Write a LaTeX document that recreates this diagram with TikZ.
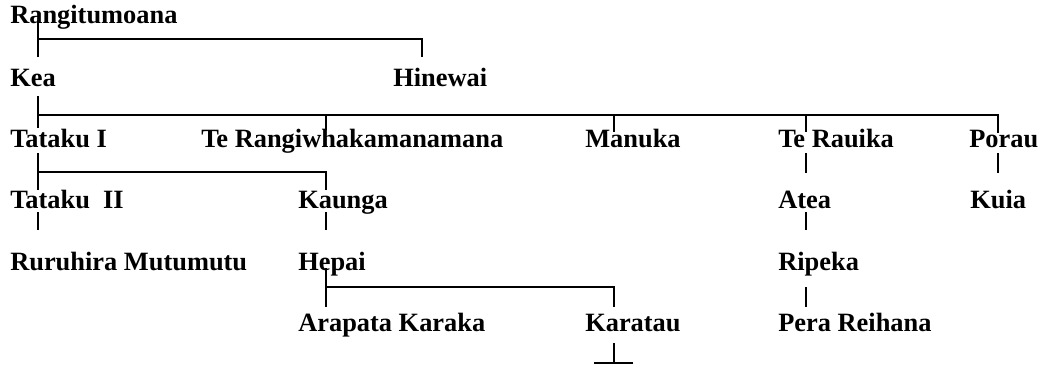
\documentclass[tikz,border=0pt]{standalone}
\usepackage{fontspec}
\setmainfont{Liberation Serif}
\begin{document}
\begin{tikzpicture}[x=0.75pt,y=-0.75pt,
  person/.style={anchor=base west,inner sep=0pt,font=\fontsize{19.8}{22}\selectfont\bfseries},
  link/.style={line width=1.25pt,black}]
\useasboundingbox (0,0) rectangle (1041,368);
% people
\node[person] (rangi) at (10,23.5) {Rangitumoana};
\node[person] (kea) at (10,86.5) {Kea};
\node[person] (hinewai) at (393,86.5) {Hinewai};
\node[person] (tataku1) at (10,147) {Tataku I};
\node[person] (terangi) at (201,147) {Te Rangiwhakamanamana};
\node[person] (manuka) at (585,147) {Manuka};
\node[person] (terauika) at (778,147) {Te Rauika};
\node[person] (porau) at (969,147) {Porau};
\node[person] (tataku2) at (10,208.5) {Tataku\ \ II};
\node[person] (kaunga) at (298,208.5) {Kaunga};
\node[person] (atea) at (778,208.5) {Atea};
\node[person] (kuia) at (970,208.5) {Kuia};
\node[person] (ruruhira) at (10,270) {Ruruhira Mutumutu};
\node[person] (hepai) at (298,270) {Hepai};
\node[person] (ripeka) at (778,270) {Ripeka};
\node[person] (arapata) at (298,331.5) {Arapata Karaka};
\node[person] (karatau) at (585,331.5) {Karatau};
\node[person] (pera) at (778,331.5) {Pera Reihana};
% junction coordinates
\coordinate (j1a) at (37.7,20);   \coordinate (j1b) at (37.7,39);
\coordinate (j1c) at (37.7,57);   \coordinate (j1d) at (422.3,39);
\coordinate (j1e) at (422.3,57);
\coordinate (j2a) at (37.7,96);   \coordinate (j2b) at (37.7,115);
\coordinate (j2c) at (37.7,128);  \coordinate (j2d) at (997.7,115);
\coordinate (j2e) at (325.7,115); \coordinate (j2f) at (325.7,130);
\coordinate (j2g) at (614,115);   \coordinate (j2h) at (614,132);
\coordinate (j2i) at (805.7,115); \coordinate (j2j) at (805.7,132);
\coordinate (j2k) at (997.7,133);
\coordinate (j3a) at (37.7,153);  \coordinate (j3b) at (37.7,172);
\coordinate (j3c) at (37.7,190);  \coordinate (j3d) at (325.7,172);
\coordinate (j3e) at (325.7,190);
\coordinate (j3f) at (805.7,153); \coordinate (j3g) at (805.7,173);
\coordinate (j3h) at (997.7,153); \coordinate (j3i) at (997.7,173);
\coordinate (j4a) at (37.7,212);  \coordinate (j4b) at (37.7,230);
\coordinate (j4c) at (325.7,212); \coordinate (j4d) at (325.7,230);
\coordinate (j4e) at (805.7,212); \coordinate (j4f) at (805.7,230);
\coordinate (j5a) at (325.7,268); \coordinate (j5b) at (325.7,287);
\coordinate (j5c) at (325.7,306.7); \coordinate (j5d) at (614,287);
\coordinate (j5e) at (614,306.7);
\coordinate (j5f) at (805.7,287); \coordinate (j5g) at (805.7,306.7);
\coordinate (j6a) at (614,343);   \coordinate (j6b) at (614,363);
\coordinate (j6c) at (594,363);   \coordinate (j6d) at (633,363);
% connectors
\draw[link] (j1a) -- (j1c);
\draw[link] (j1b) -- (j1d) -- (j1e);
\draw[link] (j2a) -- (j2c);
\draw[link] (j2b) -- (j2d) -- (j2k);
\draw[link] (j2e) -- (j2f);
\draw[link] (j2g) -- (j2h);
\draw[link] (j2i) -- (j2j);
\draw[link] (j3a) -- (j3c);
\draw[link] (j3b) -- (j3d) -- (j3e);
\draw[link] (j3f) -- (j3g);
\draw[link] (j3h) -- (j3i);
\draw[link] (j4a) -- (j4b);
\draw[link] (j4c) -- (j4d);
\draw[link] (j4e) -- (j4f);
\draw[link] (j5a) -- (j5c);
\draw[link] (j5b) -- (j5d) -- (j5e);
\draw[link] (j5f) -- (j5g);
\draw[link] (j6a) -- (j6b);
\draw[link] (j6c) -- (j6d);
\end{tikzpicture}
\end{document}
